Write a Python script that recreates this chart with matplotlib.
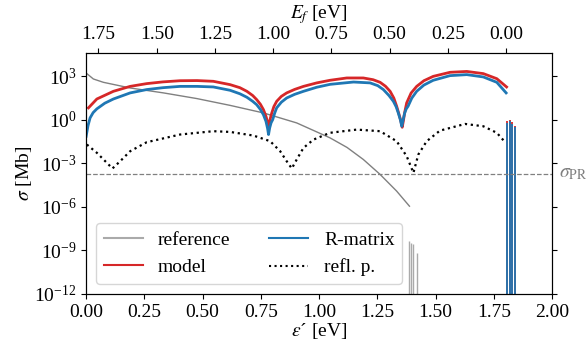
import numpy as np
import matplotlib
matplotlib.use("Agg")
import matplotlib.pyplot as plt
from matplotlib.lines import Line2D

plt.rcParams['font.family'] = ['Liberation Serif', 'DejaVu Serif']
plt.rcParams['mathtext.fontset'] = 'stix'
plt.rcParams['font.size'] = 14

# offset between eps' and E_f (top axis)
E0 = 1.803
sigma_pr = 1.9e-4

# reference curve (eps', log10 sigma)
ref_eps = [0.003, 0.031, 0.074, 0.189, 0.332, 0.475, 0.618, 0.761, 0.904, 1.047, 1.12, 1.19, 1.262, 1.333, 1.388]
ref_log = [3.19, 2.82, 2.59, 2.20, 1.86, 1.47, 1.00, 0.48, -0.21, -1.24, -1.9, -2.73, -3.76, -4.91, -5.95]

# model curve
mod_eps = [0.01, 0.046, 0.117, 0.189, 0.26, 0.33, 0.403, 0.476, 0.546, 0.618, 0.66, 0.69, 0.715, 0.732,
           0.748, 0.761, 0.772, 0.779, 0.783, 0.787, 0.791, 0.797, 0.806, 0.818, 0.838, 0.861, 0.895,
           0.933, 0.99, 1.047, 1.119, 1.19, 1.232, 1.262, 1.285, 1.305, 1.321, 1.333, 1.342, 1.35,
           1.357, 1.362, 1.368, 1.376, 1.395, 1.419, 1.45, 1.49, 1.562, 1.634, 1.705, 1.763, 1.805]
mod_log = [0.83, 1.44, 1.97, 2.31, 2.50, 2.62, 2.70, 2.71, 2.66, 2.43, 2.22, 1.97, 1.68, 1.40,
           1.08, 0.71, 0.25, -0.15, -0.55, -0.2, 0.12, 0.48, 0.92, 1.28, 1.62, 1.86, 2.1,
           2.31, 2.55, 2.73, 2.89, 2.89, 2.77, 2.59, 2.32, 1.97, 1.5, 0.94, 0.45, 0.0,
           -0.51, -0.05, 0.55, 1.17, 1.85, 2.31, 2.7, 3.0, 3.28, 3.34, 3.19, 2.84, 2.27]

# R-matrix curve
rm_eps = [0.0, 0.008, 0.017, 0.03, 0.046, 0.08, 0.117, 0.189, 0.26, 0.33, 0.403, 0.476, 0.546, 0.618,
          0.66, 0.69, 0.715, 0.732, 0.748, 0.761, 0.772, 0.779, 0.783, 0.788, 0.794, 0.801, 0.809,
          0.818, 0.838, 0.861, 0.895, 0.933, 0.99, 1.047, 1.148, 1.219, 1.252, 1.276, 1.3, 1.319,
          1.331, 1.34, 1.349, 1.355, 1.36, 1.367, 1.374, 1.382, 1.398, 1.419, 1.45, 1.49, 1.562,
          1.634, 1.705, 1.763, 1.803]
rm_log = [-1.13, -0.4, 0.14, 0.5, 0.76, 1.15, 1.44, 1.86, 2.09, 2.22, 2.31, 2.31, 2.27, 2.04,
          1.8, 1.56, 1.28, 1.05, 0.72, 0.36, -0.1, -0.6, -1.01, -0.55, -0.2, 0.02, 0.45,
          0.83, 1.22, 1.51, 1.76, 1.97, 2.25, 2.45, 2.61, 2.55, 2.36, 2.09, 1.68, 1.28,
          0.9, 0.48, 0.0, -0.44, -0.05, 0.45, 0.75, 0.94, 1.5, 1.97, 2.4, 2.73, 3.05,
          3.12, 2.96, 2.59, 1.86]

# reflection principle
rp_eps = [0.003, 0.046, 0.082, 0.113, 0.146, 0.189, 0.26, 0.403, 0.546, 0.618, 0.718, 0.79, 0.833,
          0.861, 0.883, 0.904, 0.933, 0.976, 1.047, 1.162, 1.262, 1.333, 1.376, 1.405, 1.426,
          1.462, 1.519, 1.627, 1.705, 1.763, 1.801]
rp_log = [-1.70, -2.27, -2.85, -3.35, -2.85, -2.16, -1.54, -1.01, -0.78, -0.83, -1.08, -1.47, -2.16,
          -2.85, -3.35, -2.73, -1.93, -1.36, -0.89, -0.67, -0.78, -1.47, -2.50, -3.65, -2.39,
          -1.47, -0.74, -0.28, -0.44, -0.89, -1.58]

# narrow peaks beyond threshold
spk_eps = [1.807, 1.819, 1.829, 1.84]
spk_mod = [-0.1, 0.0, -0.15, -0.4]
spk_rm = [-0.2, -0.1, -0.3, -0.5]
ref_spk_eps = [1.386, 1.394, 1.405, 1.42]
ref_spk_log = [-8.35, -8.47, -8.58, -9.15]

fig = plt.figure(figsize=(5.86, 3.45), dpi=100)
ax = fig.add_axes([0.147, 0.148, 0.795, 0.698])

ax.plot(ref_eps, 10.0 ** np.array(ref_log), color='gray', lw=1)
ax.vlines(ref_spk_eps, 1e-12, 10.0 ** np.array(ref_spk_log), color='#aaaaaa', lw=1.0)
ax.plot(mod_eps, 10.0 ** np.array(mod_log), color='tab:red', lw=2)
ax.plot(rm_eps, 10.0 ** np.array(rm_log), color='tab:blue', lw=2)
ax.vlines(spk_eps, 1e-12, 10.0 ** np.array(spk_mod), color='tab:red', lw=1.3)
ax.vlines(spk_eps, 1e-12, 10.0 ** np.array(spk_rm), color='tab:blue', lw=1.3)
ax.plot(rp_eps, 10.0 ** np.array(rp_log), color='black', lw=1.6, ls=':')
ax.axhline(sigma_pr, color='gray', lw=0.9, ls='--')
ax.text(2.03, sigma_pr, r'$\sigma_{\rm PR}$', color='gray', va='center', ha='left')

ax.set_yscale('log')
ax.set_xlim(0, 2)
ax.set_ylim(1e-12, 4e4)
ax.set_yticks([1e-12, 1e-9, 1e-6, 1e-3, 1e0, 1e3])
ax.yaxis.set_minor_locator(matplotlib.ticker.NullLocator())
ax.tick_params(right=True)
ax.set_xticks(np.arange(0, 2.01, 0.25))
ax.xaxis.set_major_formatter(matplotlib.ticker.FormatStrFormatter('%.2f'))
ax.set_xlabel("$\\varepsilon$\u00b4 [eV]", labelpad=0)
ax.set_ylabel(r'$\sigma$ [Mb]', labelpad=0)

top = ax.twiny()
top.set_xlim(E0, E0 - 2)
top.set_xticks([1.75, 1.5, 1.25, 1.0, 0.75, 0.5, 0.25, 0.0])
top.xaxis.set_major_formatter(matplotlib.ticker.FormatStrFormatter('%.2f'))
top.set_xlabel(r'$E_f$ [eV]', labelpad=6)

handles = [Line2D([], [], color='#aaaaaa', lw=1.5), Line2D([], [], color='tab:red', lw=1.5),
           Line2D([], [], color='tab:blue', lw=1.5), Line2D([], [], color='black', lw=1.5, ls=':')]
ax.legend(handles, ['reference', 'model', 'R-matrix', 'refl. p.'], loc='lower left', ncol=2,
          columnspacing=2.0)

fig.savefig('out.png', dpi=100)
